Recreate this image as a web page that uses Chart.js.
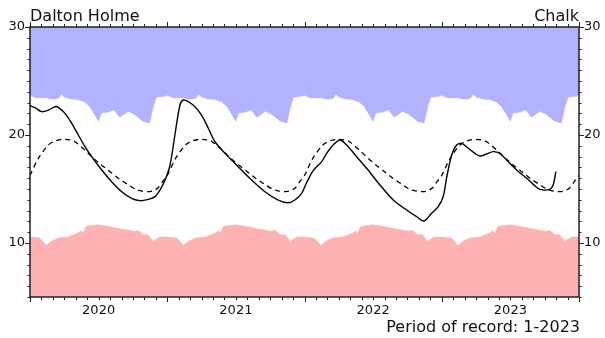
<!DOCTYPE html>
<html>
<head>
<meta charset="utf-8">
<script src="https://cdn.jsdelivr.net/npm/chart.js@4"></script>
<style>
  html, body { margin: 0; padding: 0; background: #fff; }
  #wrap { width: 605px; height: 338px; }
</style>
</head>
<body>
<div id="wrap"><canvas id="c" width="605" height="338"></canvas></div>
<script>
// ---- Data (x in months since Jan 2020) ----
const siteName = 'Dalton Holme';
const aquifer = 'Chalk';
const recordNote = 'Period of record: 1-2023';
const years = ['2020', '2021', '2022', '2023'];
const yTicks = [10, 20, 30];

// Historical maximum by month of year (blue envelope)
const maxMonth = [0, 0.55, 1.2, 1.57, 1.72, 2.16, 2.5, 2.74, 3.03, 3.61, 4.2, 4.78, 5.22, 5.66, 6.0, 6.23, 6.82, 7.34, 7.84, 8.2, 8.57, 9.15, 9.5, 9.88, 10.46, 10.75, 11.04, 11.77];
const maxLevel = [23.67, 23.43, 23.45, 23.43, 23.34, 23.34, 23.4, 23.8, 23.5, 23.34, 23.28, 23.05, 22.65, 21.88, 21.27, 22.04, 22.1, 22.34, 21.64, 21.9, 22.19, 21.9, 21.6, 21.27, 21.11, 22.5, 23.49, 23.58];

// Historical minimum by month of year (red envelope)
const minMonth = [0, 0.85, 1.42, 1.86, 2.45, 3.32, 4.2, 4.48, 4.63, 4.92, 5.65, 5.94, 6.82, 7.98, 9.15, 9.44, 9.88, 10.31, 10.75, 11.33];
const minLevel = [10.56, 10.46, 9.79, 10.16, 10.46, 10.56, 10.93, 11.14, 10.9, 11.55, 11.64, 11.7, 11.55, 11.3, 11.08, 11.17, 10.77, 10.77, 10.16, 10.56];

// Long-term average by month of year (dashed)
const avgMonth = [0, 0.73, 1.6, 2.2, 2.85, 3.5, 3.93, 4.8, 5.5, 6.27, 7.0, 7.72, 8.5, 9.18, 9.8, 10.34, 10.8, 11.2, 11.6];
const avgLevel = [16.25, 17.84, 19.07, 19.45, 19.6, 19.55, 19.38, 18.6, 17.9, 17.2, 16.6, 16.0, 15.45, 15.0, 14.8, 14.75, 14.85, 15.12, 15.7];

// Observed level (solid)
const obsMonth = [0, 0.44, 1.02, 1.6, 2.19, 2.47, 3.06, 3.65, 4.22, 4.81, 5.39, 6.27, 7.14, 8.02, 8.89, 9.62, 10.34, 10.93, 11.36, 11.8, 12.24, 12.67, 13.11, 13.4, 13.84, 14.42, 15.0, 15.59, 16.17, 17.05, 18.2, 19.38, 20.54, 21.7, 22.58, 23.16, 23.75, 24.19, 24.76, 25.5, 25.94, 26.5, 27.1, 27.68, 28.56, 29.43, 30.6, 31.76, 32.93, 33.8, 34.44, 35.11, 35.69, 36.13, 36.42, 36.86, 37.3, 37.74, 38.31, 38.9, 39.34, 39.92, 40.5, 41.08, 41.67, 42.54, 43.42, 44.0, 44.58, 45.45, 45.74, 45.98];
const obsLevel = [22.71, 22.53, 22.16, 22.3, 22.62, 22.56, 22.0, 21.08, 20.0, 18.92, 17.99, 16.76, 15.68, 14.75, 14.14, 13.92, 14.04, 14.29, 14.9, 15.8, 17.2, 20.0, 22.78, 23.24, 23.09, 22.62, 21.85, 20.62, 19.38, 18.3, 17.07, 15.83, 14.75, 13.98, 13.73, 13.98, 14.6, 15.6, 16.7, 17.53, 18.3, 19.07, 19.54, 19.07, 17.99, 16.92, 15.37, 13.98, 13.06, 12.44, 12.04, 12.75, 13.36, 14.3, 16.0, 18.1, 19.07, 19.23, 18.77, 18.3, 18.05, 18.24, 18.46, 18.3, 17.68, 16.76, 15.99, 15.43, 14.97, 14.97, 15.37, 16.6];

// ---- Build point lists ----
function yearly(months, levels) {
  const pts = [];
  for (let k = 0; k < years.length; k++) {
    months.forEach((m, i) => pts.push({ x: k * 12 + m, y: levels[i] }));
  }
  pts.push({ x: years.length * 12, y: levels[0] });
  return pts;
}
const obsPts = obsMonth.map((m, i) => ({ x: m, y: obsLevel[i] }));

const FONT = 'DejaVu Sans';

const framePlugin = {
  id: 'frame',
  afterDraw(chart) {
    const { ctx, chartArea: a, scales } = chart;
    const xs = scales.x, ys = scales.y;
    ctx.save();
    ctx.strokeStyle = '#222';
    ctx.lineWidth = 1.5;
    ctx.strokeRect(a.left, a.top, a.right - a.left, a.bottom - a.top);
    ctx.lineWidth = 1;
    ctx.beginPath();
    for (let m = 0; m <= years.length * 12; m++) {
      const px = Math.round(xs.getPixelForValue(m)) + 0.5;
      const len = (m % 12 === 0) ? 5 : 3;
      ctx.moveTo(px, a.bottom); ctx.lineTo(px, a.bottom + len);
      ctx.moveTo(px, a.top); ctx.lineTo(px, a.top - len);
    }
    for (let v = ys.min; v <= ys.max; v++) {
      const py = Math.round(ys.getPixelForValue(v)) + 0.5;
      const len = (v % 10 === 0) ? 5 : 2.5;
      ctx.moveTo(a.left, py); ctx.lineTo(a.left - len, py);
      ctx.moveTo(a.right, py); ctx.lineTo(a.right + len, py);
    }
    ctx.stroke();
    ctx.fillStyle = '#111';
    ctx.font = '16px "' + FONT + '"';
    ctx.textBaseline = 'alphabetic';
    ctx.textAlign = 'left';
    ctx.fillText(siteName, a.left, 21);
    ctx.textAlign = 'right';
    ctx.fillText(aquifer, a.right, 21);
    ctx.fillText(recordNote, a.right + 1, 332);
    ctx.restore();
  }
};

const axisCommon = {
  type: 'linear',
  min: 5,
  max: 30,
  grid: { display: false, drawTicks: false },
  border: { display: false },
  afterBuildTicks: (s) => { s.ticks = yTicks.map(v => ({ value: v })); },
  ticks: { color: '#111', font: { family: FONT, size: 13 }, padding: 5 }
};

new Chart(document.getElementById('c'), {
  type: 'line',
  data: {
    datasets: [
      {
        label: 'Observed',
        data: obsPts,
        borderColor: '#000',
        borderWidth: 1.4,
        pointRadius: 0,
        fill: false,
        tension: 0.3,
        order: 1
      },
      {
        label: 'Average',
        data: yearly(avgMonth, avgLevel),
        borderColor: '#000',
        borderWidth: 1.3,
        borderDash: [5, 4],
        pointRadius: 0,
        fill: false,
        tension: 0.3,
        order: 2
      },
      {
        label: 'Maximum',
        data: yearly(maxMonth, maxLevel),
        borderColor: 'rgb(178,178,255)',
        borderWidth: 0.5,
        backgroundColor: 'rgb(178,178,255)',
        pointRadius: 0,
        fill: 'end',
        order: 3
      },
      {
        label: 'Minimum',
        data: yearly(minMonth, minLevel),
        borderColor: 'rgb(255,178,178)',
        borderWidth: 0.5,
        backgroundColor: 'rgb(255,178,178)',
        pointRadius: 0,
        fill: 'start',
        order: 3
      }
    ]
  },
  options: {
    responsive: false,
    animation: false,
    layout: { padding: { top: 27, left: 0, right: 0, bottom: 0 } },
    plugins: { legend: { display: false }, tooltip: { enabled: false } },
    scales: {
      x: {
        type: 'linear',
        position: 'bottom',
        min: 0,
        max: years.length * 12,
        grid: { display: false, drawTicks: false },
        border: { display: false },
        afterBuildTicks: (s) => { s.ticks = years.map((_, i) => ({ value: i * 12 + 6 })); },
        afterFit: (s) => { s.height = 41; },
        ticks: {
          color: '#111',
          font: { family: FONT, size: 13 },
          padding: 6,
          maxRotation: 0,
          autoSkip: false,
          callback: (v, i) => years[i]
        }
      },
      y: Object.assign({}, axisCommon, {
        position: 'left',
        afterFit: (s) => { s.width = 30; }
      }),
      y2: Object.assign({}, axisCommon, {
        position: 'right',
        afterFit: (s) => { s.width = 26; }
      })
    }
  },
  plugins: [framePlugin]
});
</script>
</body>
</html>
